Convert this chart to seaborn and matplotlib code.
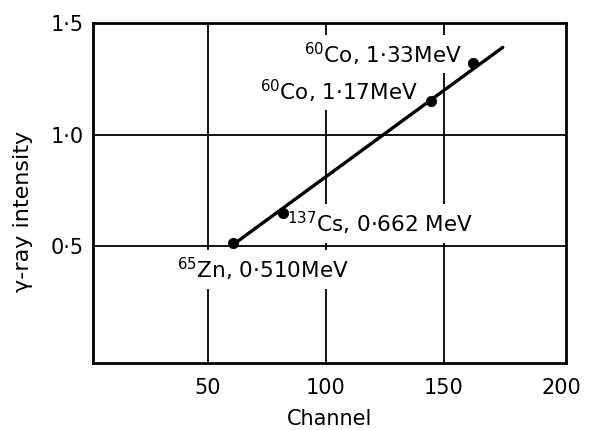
import matplotlib
matplotlib.use("Agg")
import matplotlib.pyplot as plt
import seaborn as sns
import pandas as pd

# Calibration sources: peak channel and gamma energy (MeV)
sources = ["60Co", "60Co", "137Cs", "65Zn"]
channel = [162.5, 144.5, 81.8, 60.6]
energy = [1.32, 1.15, 0.647, 0.513]
labels = [r"$^{60}$Co, 1·33MeV", r"$^{60}$Co, 1·17MeV",
          r"$^{137}$Cs, 0·662 MeV", r"$^{65}$Zn, 0·510MeV"]

# Straight calibration line drawn through the points
line_channel = [61, 175]
line_energy = [0.51, 1.39]

x_ticks = [50, 100, 150, 200]
x_ticklabels = ["50", "100", "150", "200"]
y_ticks = [0.5, 1.0, 1.5]
y_ticklabels = ["0·5", "1·0", "1·5"]

sns.set_style("white")
plt.rcParams["font.family"] = ["DejaVu Sans"]
plt.rcParams["mathtext.fontset"] = "dejavusans"
plt.rcParams["text.color"] = "black"

fig = plt.figure(figsize=(5.93, 4.30), dpi=100)
ax = fig.add_axes([0.157, 0.156, 0.797, 0.791])

pts = pd.DataFrame({"channel": channel, "energy": energy, "source": sources})
fit = pd.DataFrame({"channel": line_channel, "energy": line_energy})

sns.lineplot(data=fit, x="channel", y="energy", color="black", lw=2.4,
             ax=ax, zorder=4)
sns.scatterplot(data=pts, x="channel", y="energy", color="black", s=55,
                edgecolor="black", ax=ax, zorder=5, legend=False)

# Labels sit on white patches that break the grid lines
label_pos = [(157.5, 1.32, "right"), (139, 1.155, "right"),
             (83.5, 0.562, "left"), (37, 0.357, "left")]
for txt, (lx, ly, ha) in zip(labels, label_pos):
    ax.text(lx, ly, txt, ha=ha, va="baseline", fontsize=15.5, zorder=3,
            color="black", bbox=dict(fc="white", ec="none", pad=4))

ax.set_xlim(1.3, 201.7)
ax.set_ylim(-0.022, 1.496)
ax.set_xticks(x_ticks)
ax.set_xticklabels(x_ticklabels)
ax.set_yticks(y_ticks)
ax.set_yticklabels(y_ticklabels)
ax.tick_params(axis="x", length=0, labelsize=15, pad=11, colors="black")
ax.tick_params(axis="y", length=0, labelsize=15, pad=7, colors="black")

# Grid only at the inner ticks
for gx in x_ticks[:-1]:
    ax.axvline(gx, color="black", lw=1.3, zorder=0)
for gy in y_ticks[:-1]:
    ax.axhline(gy, color="black", lw=1.3, zorder=0)

for sp in ax.spines.values():
    sp.set_color("black")
    sp.set_linewidth(2)

ax.set_xlabel("Channel", fontsize=15, labelpad=8, color="black")
ax.set_ylabel("γ-ray intensity", fontsize=16, color="black")
ax.yaxis.set_label_coords(-0.127, 0.444)

fig.savefig("out.png", dpi=100, facecolor="white")
